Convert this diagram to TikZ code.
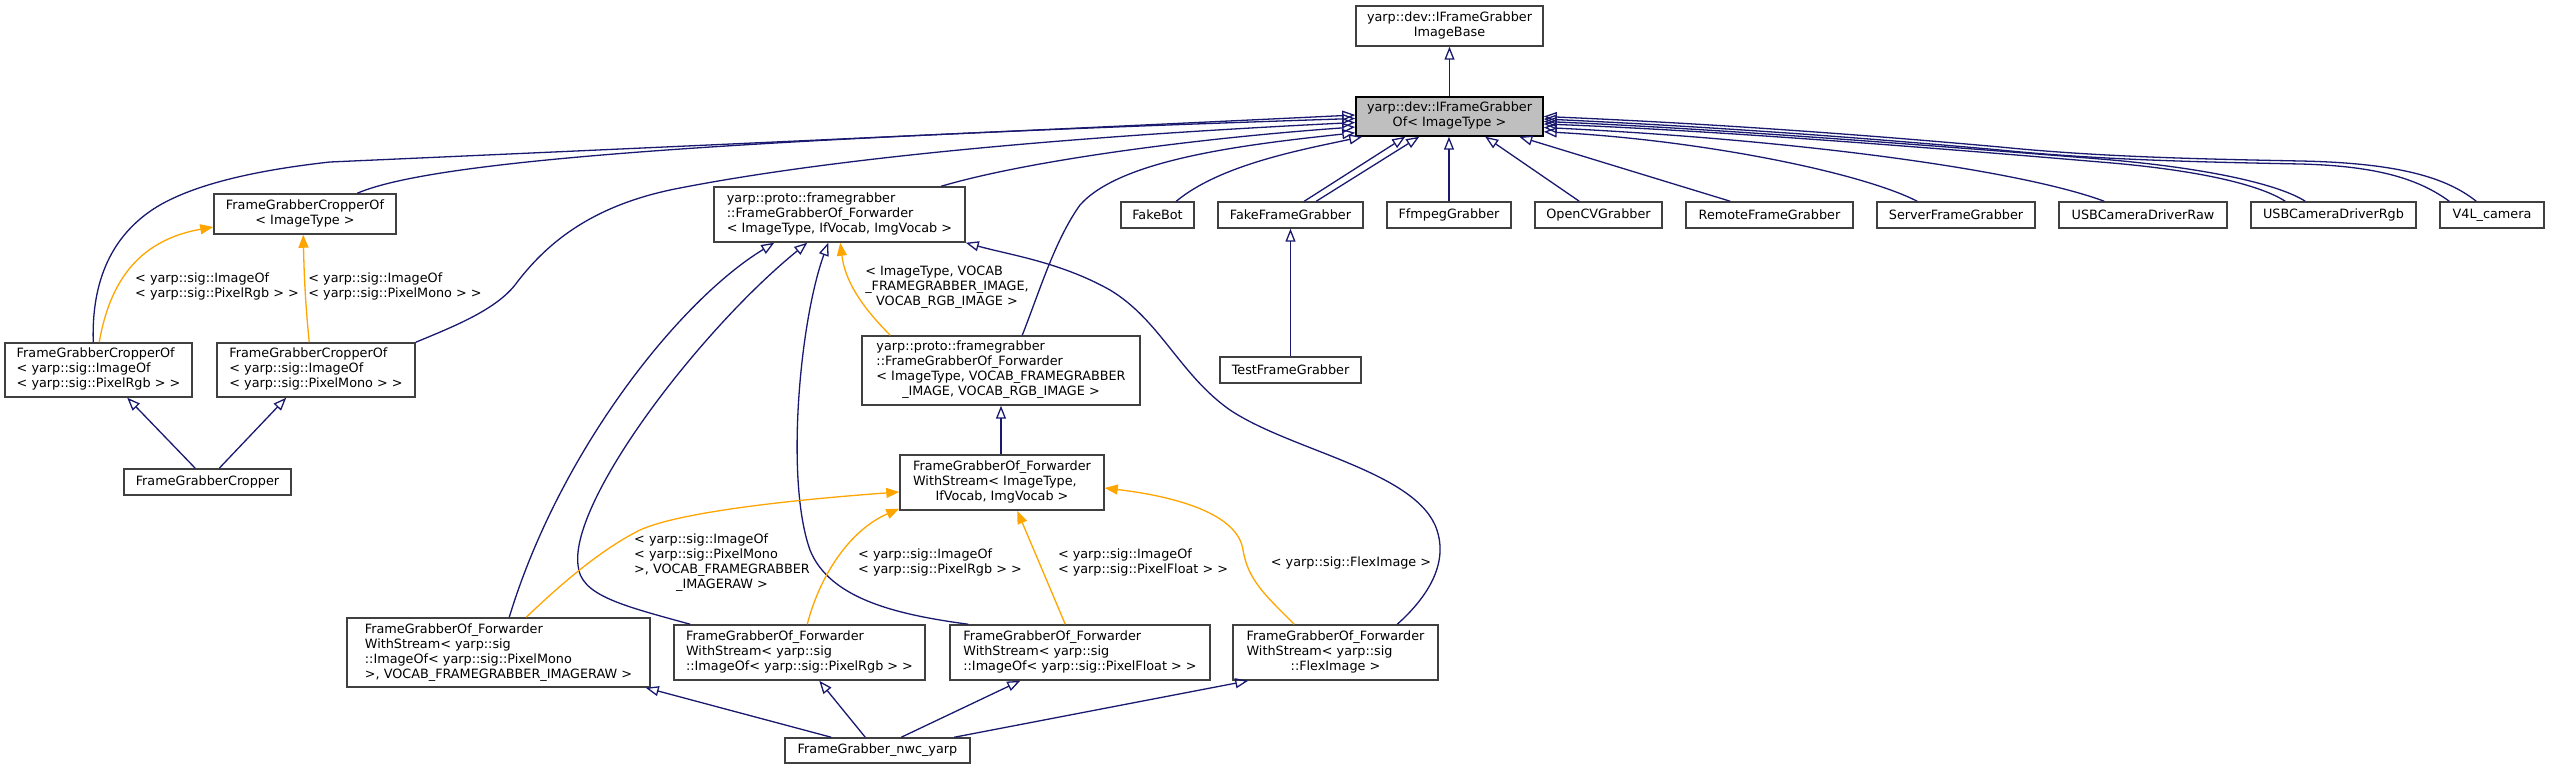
\documentclass[tikz,border=0pt]{standalone}
\usepackage{fontspec}
\setmainfont{DejaVu Sans}
\usetikzlibrary{arrows.meta,calc}
\definecolor{edgeblue}{HTML}{191970}
\definecolor{edgeorange}{HTML}{FFA500}
\definecolor{boxline}{HTML}{404040}
\definecolor{focusfill}{HTML}{BFBFBF}
\newcommand\lastln[1]{\multicolumn{1}{@{}c@{}}{#1}}
\newcommand\tb[1]{\begin{tabular}{@{}l@{}}#1\end{tabular}}
\tikzset{
 cls/.style={draw=boxline, line width=0.75pt, fill=white, inner sep=0pt},
 focus/.style={cls, draw=black, fill=focusfill},
 sz/.style 2 args={minimum width=#1*0.5pt, minimum height=#2*0.5pt},
 lbl/.style={inner sep=0pt},
 inh/.style={draw=edgeblue, line width=0.65pt, -{Triangle[open, length=6.5pt, width=5pt]}},
 tpl/.style={draw=edgeorange, line width=0.65pt, -{Triangle[length=6.5pt, width=5pt]}},
}
\begin{document}
\begin{tikzpicture}[x=0.5pt,y=-0.5pt, font=\fontsize{6.4}{7.5}\selectfont]
\fill[white] (0,0) rectangle (2549,769);
\useasboundingbox (0,0) rectangle (2549,769);

% nodes
\node[cls, sz={187}{40}] (base) at (1449.5,26) {\tb{yarp::dev::IFrameGrabber\\\lastln{ImageBase}}};
\node[focus, sz={187}{39}] (ifg) at (1449.5,116.5) {\tb{yarp::dev::IFrameGrabber\\\lastln{Of< ImageType >}}};
\node[cls, sz={182}{40}] (cropT) at (305,214) {\tb{FrameGrabberCropperOf\\\lastln{< ImageType >}}};
\node[cls, sz={187}{54}] (cropRgb) at (98.5,370) {\tb{FrameGrabberCropperOf\\< yarp::sig::ImageOf\\\lastln{< yarp::sig::PixelRgb > >}}};
\node[cls, sz={198}{54}] (cropMono) at (316,370) {\tb{FrameGrabberCropperOf\\< yarp::sig::ImageOf\\\lastln{< yarp::sig::PixelMono > >}}};
\node[cls, sz={167}{26}] (cropper) at (207.5,482) {FrameGrabberCropper};
\node[cls, sz={251}{55}] (fwd) at (839.5,214.5) {\tb{yarp::proto::framegrabber\\::FrameGrabberOf\_Forwarder\\\lastln{< ImageType, IfVocab, ImgVocab >}}};
\node[cls, sz={278}{69}] (fwd2) at (1001,370.5) {\tb{yarp::proto::framegrabber\\::FrameGrabberOf\_Forwarder\\< ImageType, VOCAB\_FRAMEGRABBER\\\lastln{\_IMAGE, VOCAB\_RGB\_IMAGE >}}};
\node[cls, sz={204}{55}] (ws) at (1002,482.5) {\tb{FrameGrabberOf\_Forwarder\\WithStream< ImageType,\\\lastln{IfVocab, ImgVocab >}}};
\node[cls, sz={303}{69}] (wsMono) at (498.5,652.5) {\tb{FrameGrabberOf\_Forwarder\\WithStream< yarp::sig\\::ImageOf< yarp::sig::PixelMono\\\lastln{>, VOCAB\_FRAMEGRABBER\_IMAGERAW >}}};
\node[cls, sz={251}{55}] (wsRgb) at (799.5,652.5) {\tb{FrameGrabberOf\_Forwarder\\WithStream< yarp::sig\\\lastln{::ImageOf< yarp::sig::PixelRgb > >}}};
\node[cls, sz={260}{55}] (wsFloat) at (1080,652.5) {\tb{FrameGrabberOf\_Forwarder\\WithStream< yarp::sig\\\lastln{::ImageOf< yarp::sig::PixelFloat > >}}};
\node[cls, sz={205}{55}] (wsFlex) at (1335.5,652.5) {\tb{FrameGrabberOf\_Forwarder\\WithStream< yarp::sig\\\lastln{::FlexImage >}}};
\node[cls, sz={185}{25}] (nwc) at (877.5,750.5) {FrameGrabber\_nwc\_yarp};
\node[cls, sz={73}{26}] (fakebot) at (1157.5,215) {FakeBot};
\node[cls, sz={145}{26}] (fakefg) at (1290.5,215) {FakeFrameGrabber};
\node[cls, sz={124}{26}] (ffmpeg) at (1449,215) {FfmpegGrabber};
\node[cls, sz={127}{26}] (opencv) at (1598.5,215) {OpenCVGrabber};
\node[cls, sz={167}{26}] (remote) at (1769.5,215) {RemoteFrameGrabber};
\node[cls, sz={158}{26}] (server) at (1956,215) {ServerFrameGrabber};
\node[cls, sz={168}{26}] (usbraw) at (2143,215) {USBCameraDriverRaw};
\node[cls, sz={165}{26}] (usbrgb) at (2333.5,215) {USBCameraDriverRgb};
\node[cls, sz={104}{26}] (v4l) at (2492,215) {V4L\_camera};
\node[cls, sz={141}{26}] (testfg) at (1290.5,370) {TestFrameGrabber};

% edge labels
\node[lbl] (lCropRgb) at (217,287) {\tb{< yarp::sig::ImageOf\\\lastln{< yarp::sig::PixelRgb > >}}};
\node[lbl] (lCropMono) at (395,287) {\tb{< yarp::sig::ImageOf\\\lastln{< yarp::sig::PixelMono > >}}};
\node[lbl] (lFwd2) at (947,288) {\tb{< ImageType, VOCAB\\\_FRAMEGRABBER\_IMAGE,\\\lastln{VOCAB\_RGB\_IMAGE >}}};
\node[lbl] (lWsMono) at (722,563) {\tb{< yarp::sig::ImageOf\\< yarp::sig::PixelMono\\ >, VOCAB\_FRAMEGRABBER\\\lastln{\_IMAGERAW >}}};
\node[lbl] (lWsRgb) at (940,563) {\tb{< yarp::sig::ImageOf\\\lastln{< yarp::sig::PixelRgb > >}}};
\node[lbl] (lWsFloat) at (1143,563) {\tb{< yarp::sig::ImageOf\\\lastln{< yarp::sig::PixelFloat > >}}};
\node[lbl] (lWsFlex) at (1351,563) {< yarp::sig::FlexImage >};

% inheritance edges
\draw[inh] (ifg.north) -- (base.south);
\draw[inh] ($(cropRgb.north west)+(89,0)$) .. controls (92,300) and (100,240) .. (160,205) .. controls (190,188) and (240,172) .. (330,162) .. controls (600,150) and (1000,132) .. ($(ifg.west)+(0,-1.5)$);
\draw[inh] ($(cropT.north west)+(144,0)$) .. controls (430,162) and (700,140) .. ($(ifg.west)+(0,2)$);
\draw[inh] (cropMono.north east) .. controls (455,326) and (495,310) .. (515,285) .. controls (545,245) and (590,205) .. (680,188) .. controls (850,155) and (1100,135) .. ($(ifg.west)+(0,6)$);
\draw[inh] ($(fwd.north west)+(228,0)$) .. controls (1030,160) and (1200,138) .. ($(ifg.west)+(0,10.5)$);
\draw[inh] ($(fwd2.north west)+(161,0)$) .. controls (1040,290) and (1055,240) .. (1080,205) .. controls (1120,160) and (1240,145) .. ($(ifg.south west)+(0,-4)$);
\draw[inh] ($(fakebot.north west)+(56,0)$) .. controls (1220,165) and (1300,150) .. ($(ifg.south west)+(7,0)$);
\draw[inh] ($(fakefg.north west)+(87,0)$) -- ($(ifg.south west)+(50,0)$);
\draw[inh] ($(fakefg.north west)+(99,0)$) -- ($(ifg.south west)+(64,0)$);
\draw[inh] (ffmpeg.north) -- (ffmpeg.north |- ifg.south);
\draw[inh] ($(opencv.north west)+(45,0)$) -- ($(ifg.south west)+(130,0)$);
\draw[inh] ($(remote.north west)+(45,0)$) -- ($(ifg.south west)+(164,0)$);
\draw[inh] ($(server.north west)+(41,0)$) .. controls (1860,172) and (1700,140) .. ($(ifg.south east)+(0,-5)$);
\draw[inh] ($(usbraw.north west)+(46,0)$) .. controls (2020,170) and (1800,140) .. ($(ifg.east)+(0,11)$);
\draw[inh] ($(usbrgb.north west)+(35,0)$) .. controls (2260,185) and (2200,170) .. (2100,162) .. controls (1900,145) and (1700,130) .. ($(ifg.east)+(0,7.5)$);
\draw[inh] ($(usbrgb.north west)+(55,0)$) .. controls (2280,185) and (2210,168) .. (2100,159) .. controls (1900,143) and (1700,128) .. ($(ifg.east)+(0,5)$);
\draw[inh] ($(v4l.north west)+(10,0)$) .. controls (2420,180) and (2380,166) .. (2300,164) .. controls (2200,162) and (2100,160) .. (2000,150) .. controls (1800,132) and (1650,124) .. ($(ifg.east)+(0,2.5)$);
\draw[inh] ($(v4l.north west)+(37,0)$) .. controls (2447,178) and (2400,163) .. (2300,161) .. controls (2200,159) and (2100,157) .. (2000,147) .. controls (1800,129) and (1650,121) .. (ifg.east);
\draw[inh] (testfg.north) -- (fakefg.south);
\draw[inh] ($(cropper.north west)+(72,0)$) -- ($(cropRgb.south west)+(123,0)$);
\draw[inh] ($(cropper.north west)+(96,0)$) -- ($(cropMono.south west)+(70,0)$);
\draw[inh] (fwd2.south |- ws.north) -- (fwd2.south);
\draw[inh] ($(wsMono.north west)+(163,0)$) .. controls (560,450) and (680,300) .. ($(fwd.south west)+(61,0)$);
\draw[inh] ($(wsRgb.north west)+(17,0)$) .. controls (620,605) and (580,595) .. (578,565) .. controls (570,500) and (700,330) .. ($(fwd.south west)+(94,0)$);
\draw[inh] ($(wsFloat.north west)+(19,0)$) .. controls (900,615) and (830,600) .. (810,550) .. controls (785,480) and (800,320) .. ($(fwd.south west)+(115,0)$);
\draw[inh] ($(wsFlex.north west)+(165,0)$) .. controls (1430,595) and (1450,560) .. (1435,525) .. controls (1410,470) and (1290,450) .. (1230,410) .. controls (1180,375) and (1160,320) .. (1110,290) .. controls (1060,262) and (1010,255) .. (fwd.south east);
\draw[inh] ($(nwc.north west)+(47,0)$) -- ($(wsMono.south east)+(-5,0)$);
\draw[inh] ($(nwc.north west)+(81,0)$) -- ($(wsRgb.south west)+(146,0)$);
\draw[inh] ($(nwc.north west)+(117,0)$) -- ($(wsFloat.south west)+(71,0)$);
\draw[inh] ($(nwc.north west)+(170,0)$) -- ($(wsFlex.south west)+(16,0)$);

% template instantiation edges
\draw[tpl] ($(cropRgb.north west)+(95,0)$) .. controls (110,280) and (140,240) .. ($(cropT.west)+(0,13)$);
\draw[tpl] ($(cropMono.north west)+(93,0)$) .. controls (305,300) and (304,270) .. ($(cropT.south west)+(90,0)$);
\draw[tpl] ($(fwd2.north west)+(29,0)$) .. controls (860,305) and (845,280) .. ($(fwd.south west)+(127,0)$);
\draw[tpl] ($(wsMono.north west)+(180,0)$) .. controls (560,585) and (600,550) .. (640,530) .. controls (680,512) and (790,500) .. ($(ws.west)+(0,9.5)$);
\draw[tpl] ($(wsRgb.north west)+(134,0)$) .. controls (820,575) and (850,530) .. ($(ws.south west)+(0,-2)$);
\draw[tpl] ($(wsFloat.north west)+(116,0)$) -- ($(ws.south west)+(118,0)$);
\draw[tpl] ($(wsFlex.north west)+(62,0)$) .. controls (1265,595) and (1248,580) .. (1243,550) .. controls (1238,515) and (1180,497) .. ($(ws.east)+(0,5.5)$);
\end{tikzpicture}
\end{document}
